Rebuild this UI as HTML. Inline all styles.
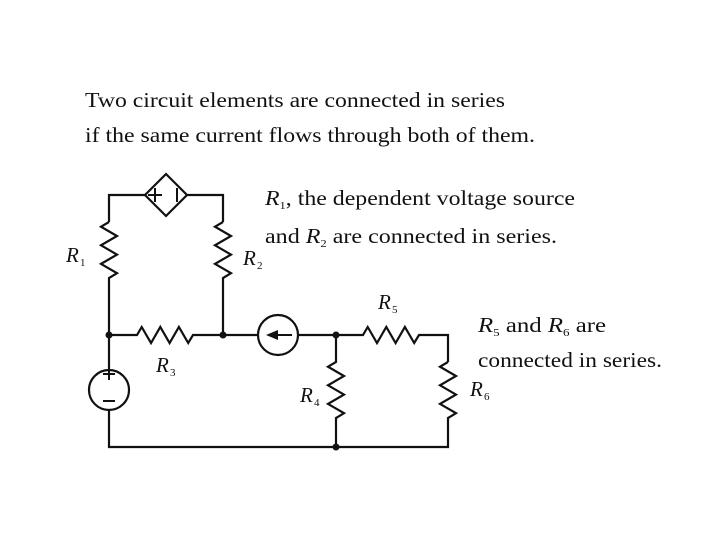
<!DOCTYPE html>
<html><head><style>
html,body{margin:0;padding:0;background:#fff;}
svg{display:block;}
text{font-family:"Liberation Serif",serif;fill:#111;}
</style></head><body>
<svg width="720" height="540" viewBox="0 0 720 540">
<g font-size="21">
<text x="85" y="107" textLength="420" lengthAdjust="spacingAndGlyphs">Two circuit elements are connected in series</text>
<text x="85" y="142" textLength="450" lengthAdjust="spacingAndGlyphs">if the same current flows through both of them.</text>
<text x="265" y="205" textLength="310" lengthAdjust="spacingAndGlyphs"><tspan font-style="italic">R</tspan><tspan font-size="11" dy="4">1</tspan><tspan dy="-4">, the dependent voltage source</tspan></text>
<text x="265" y="243" textLength="292" lengthAdjust="spacingAndGlyphs">and <tspan font-style="italic">R</tspan><tspan font-size="11" dy="4">2</tspan><tspan dy="-4">  are connected in series.</tspan></text>
<text x="478" y="332" textLength="128" lengthAdjust="spacingAndGlyphs"><tspan font-style="italic">R</tspan><tspan font-size="11" dy="4">5</tspan><tspan dy="-4">  and </tspan><tspan font-style="italic">R</tspan><tspan font-size="11" dy="4">6</tspan><tspan dy="-4">  are</tspan></text>
<text x="478" y="367" textLength="184" lengthAdjust="spacingAndGlyphs">connected in series.</text>
</g>
<g font-size="21">
<text x="66" y="262" font-style="italic">R</text><text x="80" y="266" font-size="11">1</text>
<text x="243" y="265" font-style="italic">R</text><text x="257" y="269" font-size="11">2</text>
<text x="156" y="372" font-style="italic">R</text><text x="170" y="376" font-size="11">3</text>
<text x="300" y="402" font-style="italic">R</text><text x="314" y="406" font-size="11">4</text>
<text x="378" y="309" font-style="italic">R</text><text x="392" y="313" font-size="11">5</text>
<text x="470" y="396" font-style="italic">R</text><text x="484" y="400" font-size="11">6</text>
</g>
<g stroke="#111" stroke-width="2.2" fill="none" stroke-linejoin="miter">
<!-- top loop -->
<polyline points="109,222 109,195 145,195"/>
<polyline points="187,195 223,195 223,222"/>
<polygon points="145,195 166,174 187,195 166,216"/>
<path d="M109,222 l-8,4.7 16,9.3 -16,9.3 16,9.3 -16,9.3 16,9.3 -8,4.8 L109,335"/>
<path d="M223,222 l-8,4.7 16,9.3 -16,9.3 16,9.3 -16,9.3 16,9.3 -8,4.8 L223,335"/>
<!-- middle -->
<path d="M109,335 H137 l4.7,-8 9.3,16 9.3,-16 9.3,16 9.3,-16 9.3,16 4.8,-8 H258"/>
<circle cx="278" cy="335" r="20"/>
<path d="M298,335 H363 l4.7,-8 9.3,16 9.3,-16 9.3,16 9.3,-16 9.3,16 4.8,-8 H448 V362"/>
<path d="M448,362 l-8,4.7 16,9.3 -16,9.3 16,9.3 -16,9.3 16,9.3 -8,4.8 V447 H109 V410"/>
<path d="M336,335 V362 l-8,4.7 16,9.3 -16,9.3 16,9.3 -16,9.3 16,9.3 -8,4.8 V447"/>
<path d="M109,335 V370"/>
<circle cx="109" cy="390" r="20"/>
<path d="M109,380 v-12 M103,374 h12 M103,401 h12" stroke-width="2"/>
<path d="M155,188 v14 M148,195 h14 M177,188 v14" stroke-width="2"/>
<path d="M292,335 H276" stroke-width="2"/>
</g>
<polygon points="266,335 278,330 278,340" fill="#111"/>
<g fill="#111">
<circle cx="109" cy="335" r="3.5"/><circle cx="223" cy="335" r="3.5"/>
<circle cx="336" cy="335" r="3.5"/><circle cx="336" cy="447" r="3.5"/>
</g>
</svg>
</body></html>
